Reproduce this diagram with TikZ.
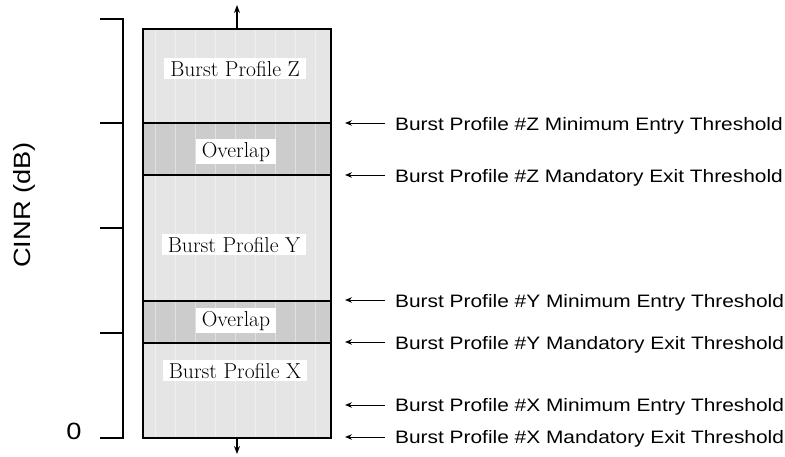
\documentclass[tikz,border=0pt]{standalone}
\usepackage{fontspec}
\newfontfamily\lsans[FakeStretch=1.16]{Liberation Sans}
\usetikzlibrary{arrows.meta,calc}
\begin{document}
\begin{tikzpicture}[x=1pt,y=-1pt,
  edge/.style={line width=1.4pt},
  prof/.style={fill=gray!20},
  ovl/.style={fill=gray!40},
  stripe/.style={white, line width=1pt, opacity=0.4},
  lab/.style={fill=white, inner xsep=6pt, inner ysep=3pt, anchor=base, font=\fontsize{21.6}{24}\selectfont},
  thr/.style={anchor=base west, inner sep=0pt, font=\lsans\fontsize{18}{20}\selectfont},
  ptr/.style={line width=1pt, -{Stealth[length=7pt,width=5.5pt]}},
  vptr/.style={line width=1.3pt, -{Stealth[length=8pt,width=6pt]}},
  axl/.style={font=\lsans\fontsize{23.5}{26}\selectfont},
]
\useasboundingbox (0,0) rectangle (785,456);
% regions
\fill[prof] (143,29) rectangle (331,123);
\fill[ovl]  (143,123) rectangle (331,175);
\fill[prof] (143,175) rectangle (331,301);
\fill[ovl]  (143,301) rectangle (331,343);
\fill[prof] (143,343) rectangle (331,438);
\foreach \x in {155,175,...,315}{
  \draw[stripe] (\x,29) -- (\x,438);
}
\draw[edge] (143,29) rectangle (331,438);
\draw[edge] (143,123) -- (331,123);
\draw[edge] (143,175) -- (331,175);
\draw[edge] (143,301) -- (331,301);
\draw[edge] (143,343) -- (331,343);
% labels
\node[lab] (bz) at (235,76) {Burst Profile Z};
\node[lab] (oz) at (236,157) {Overlap};
\node[lab] (by) at (234,252) {Burst Profile Y};
\node[lab] (oy) at (236,326) {Overlap};
\node[lab] (bx) at (235,378) {Burst Profile X};
% vertical arrows
\coordinate (top) at (237,29);
\coordinate (topend) at (237,5);
\coordinate (bot) at (237,438);
\coordinate (botend) at (237,454);
\draw[vptr] (top) -- (topend);
\draw[vptr] (bot) -- (botend);
% bracket axis
\draw[edge] (100,19) -- (123,19) -- (123,438) -- (100,438);
\draw[edge] (100,123) -- (123,123);
\draw[edge] (100,228) -- (123,228);
\draw[edge] (100,333) -- (123,333);
\node[axl] (zero) at (74,431) {0};
\node[axl, rotate=90] (cinr) at (24,205) {CINR (dB)};
% thresholds
\coordinate (e1) at (345,123);
\coordinate (e2) at (345,175);
\coordinate (e3) at (345,300);
\coordinate (e4) at (345,342);
\coordinate (e5) at (345,405);
\coordinate (e6) at (345,437);
\node[thr] (t1) at (395,130) {Burst Profile \#Z Minimum Entry Threshold};
\node[thr] (t2) at (395,182) {Burst Profile \#Z Mandatory Exit Threshold};
\node[thr] (t3) at (395,307) {Burst Profile \#Y Minimum Entry Threshold};
\node[thr] (t4) at (395,349) {Burst Profile \#Y Mandatory Exit Threshold};
\node[thr] (t5) at (395,411) {Burst Profile \#X Minimum Entry Threshold};
\node[thr] (t6) at (395,443) {Burst Profile \#X Mandatory Exit Threshold};
\foreach \i in {1,...,6}{
  \draw[ptr] ($(e\i -| t\i.west)+(-10,0)$) -- (e\i);
}
\end{tikzpicture}
\end{document}
